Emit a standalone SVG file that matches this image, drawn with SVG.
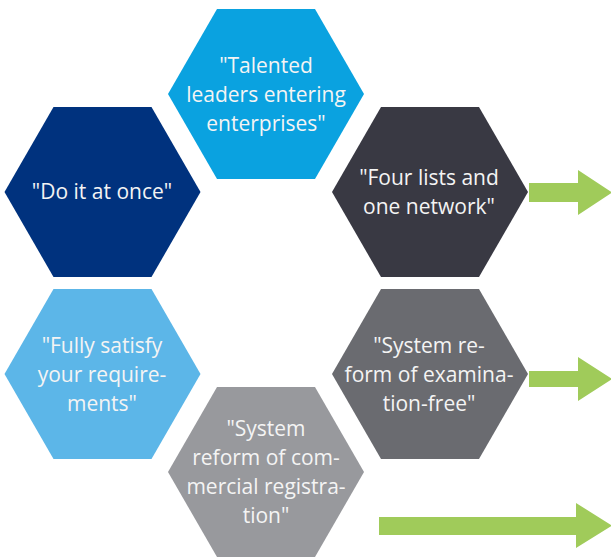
<svg xmlns="http://www.w3.org/2000/svg" width="611" height="559" viewBox="0 0 611 559">
<defs>
<style>
.hex{stroke:none}
.t{font-family:"Open Sans","Noto Sans","Liberation Sans",sans-serif;font-size:21px;fill:#f4f4f4;text-anchor:middle}
.arr{fill:#a0cb5a}
</style>
<polygon id="hexshape" points="-98,0 -49,-85 49,-85 98,0 49,85 -49,85"/>
</defs>
<rect width="611" height="559" fill="#ffffff"/>
<g id="n1"><use href="#hexshape" transform="translate(266,94)" fill="#0aa2e0"/>
<text class="t" x="266" y="73">"Talented</text><text class="t" x="266" y="102">leaders entering</text><text class="t" x="266" y="131">enterprises"</text></g>
<g id="n2"><use href="#hexshape" transform="translate(102.5,192)" fill="#00327e"/>
<text class="t" x="102" y="199">"Do it at once"</text></g>
<g id="n3"><use href="#hexshape" transform="translate(430,192)" fill="#393943"/>
<text class="t" x="429" y="185">"Four lists and</text><text class="t" x="429" y="214">one network"</text></g>
<g id="n4"><use href="#hexshape" transform="translate(102.5,374)" fill="#5cb6e8"/>
<text class="t" x="102" y="353">"Fully satisfy</text><text class="t" x="102" y="382">your require-</text><text class="t" x="102" y="411">ments"</text></g>
<g id="n5"><use href="#hexshape" transform="translate(430,374)" fill="#6a6b70"/>
<text class="t" x="429" y="353">"System re-</text><text class="t" x="429" y="382">form of examina-</text><text class="t" x="429" y="411">tion-free"</text></g>
<g id="n6"><use href="#hexshape" transform="translate(266,472)" fill="#98999d"/>
<text class="t" x="266" y="436">"System</text><text class="t" x="266" y="465">reform of com-</text><text class="t" x="266" y="494">mercial registra-</text><text class="t" x="266" y="523">tion"</text></g>
<g id="connectors">
<polygon class="arr" points="529,183 578,183 578,170 612,192.5 578,215 578,202 529,202"/>
<polygon class="arr" points="529,371 578,371 578,357 612,379 578,401 578,387 529,387"/>
<polygon class="arr" points="379,517 576,517 576,503 612,525.5 576,548 576,535 379,535"/>
</g>
</svg>
